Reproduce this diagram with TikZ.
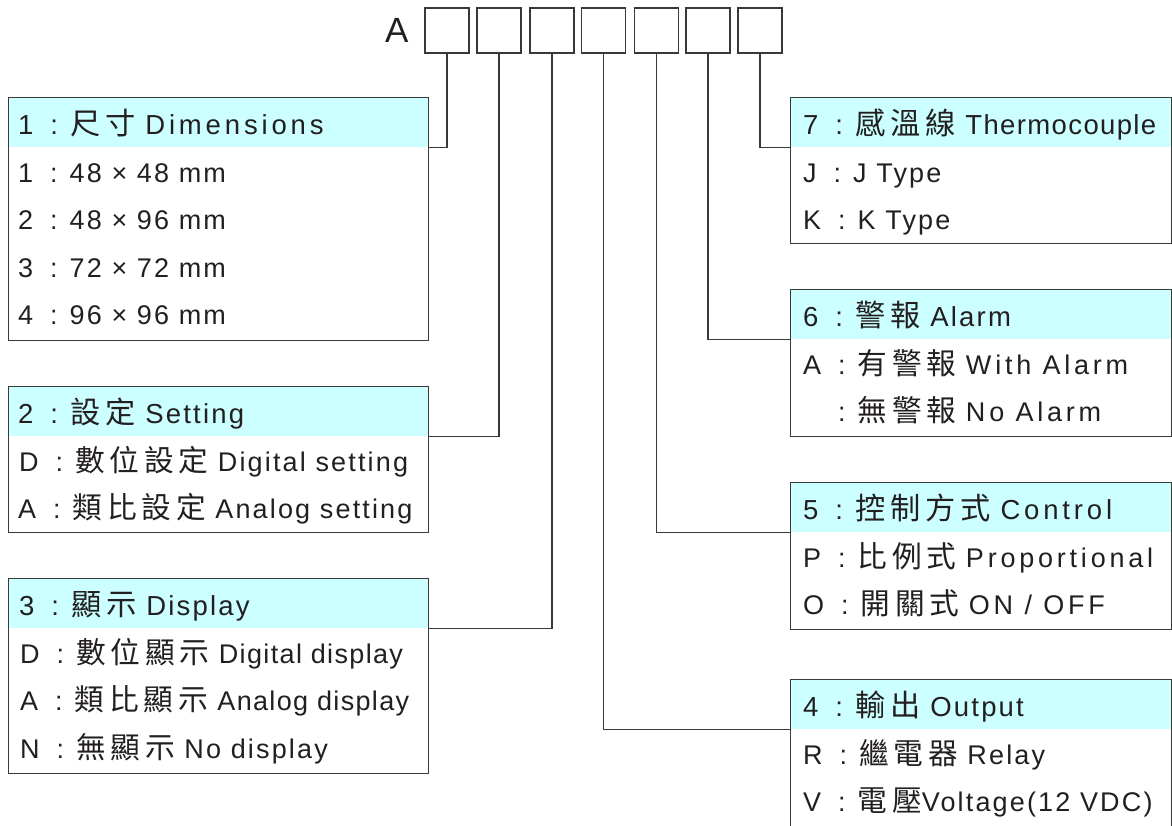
\documentclass[tikz,border=0pt]{standalone}
\usepackage{fontspec}
\setmainfont{Liberation Sans}[LetterSpace=8]
\newfontfamily\cjk{Noto Sans CJK TC}[Scale=1.1, LetterSpace=16]
\definecolor{hdrc}{HTML}{CCFFFF}
\definecolor{linec}{HTML}{3C3838}
\definecolor{txtc}{HTML}{231F20}
\newcommand\C[1]{{\cjk #1}}
\newcommand\sep{\hspace{17pt}:\hspace{12pt}}
\newcommand\wide[1]{{\addfontfeature{LetterSpace=14}#1}}
\newcommand\tight[1]{{\addfontfeature{LetterSpace=5}#1}}
\newcommand\bodyfnt{\fontsize{27}{30}\selectfont}
\newcommand\hdrfnt{\fontsize{27.5}{30}\selectfont}
\tikzset{
  frame/.style={draw=linec, line width=1.4pt, inner sep=0pt, anchor=north west},
  hdr/.style={fill=hdrc, inner sep=0pt, anchor=north west, minimum height=50pt},
  lbl/.style={anchor=base west, inner sep=0pt, text=txtc, font=\bodyfnt},
  hlbl/.style={lbl, font=\hdrfnt},
  wire/.style={draw=linec, line width=1.3pt},
  digitbox/.style={draw=linec, line width=1.5pt, minimum width=44pt, minimum height=45pt, inner sep=0pt}
}
\begin{document}
\begin{tikzpicture}[x=1pt,y=-1pt]
\useasboundingbox (0,0) rectangle (1172,825);
% prefix and code boxes
\node[anchor=base west, inner sep=0pt, text=txtc, font=\fontsize{35}{40}\selectfont] (pre) at (385,42) {A};
\node[digitbox] (d1) at (447,30.5) {};
\node[digitbox] (d2) at (499,30.5) {};
\node[digitbox] (d3) at (552,30.5) {};
\node[digitbox] (d4) at (603.5,30.5) {};
\node[digitbox] (d5) at (656.5,30.5) {};
\node[digitbox] (d6) at (708,30.5) {};
\node[digitbox] (d7) at (760,30.5) {};
% ---------- Box 1
\node[hdr, minimum width=420pt] (h1) at (8,97) {};
\node[frame, minimum width=420pt, minimum height=243pt] (b1) at (8,97) {};
\node[hlbl] (t10) at (18,134) {1\sep\C{尺寸} \wide{Dimensions}};
\node[lbl] (t11) at (18,182.5) {1\sep 48 × 48 mm};
\node[lbl] (t12) at (18,229.8) {2\sep 48 × 96 mm};
\node[lbl] (t13) at (18,277.1) {3\sep 72 × 72 mm};
\node[lbl] (t14) at (18,324.4) {4\sep 96 × 96 mm};
% ---------- Box 2
\node[hdr, minimum width=420pt] (h2) at (8,386) {};
\node[frame, minimum width=420pt, minimum height=146pt] (b2) at (8,386) {};
\node[hlbl] (t20) at (18,423) {2\sep\C{設定} Setting};
\node[lbl] (t21) at (19,471.5) {D\sep\C{數位設定} Digital setting};
\node[lbl] (t22) at (18,518.8) {A\sep\C{類比設定} Analog setting};
% ---------- Box 3
\node[hdr, minimum width=420pt] (h3) at (8,578) {};
\node[frame, minimum width=420pt, minimum height=195pt] (b3) at (8,578) {};
\node[hlbl] (t30) at (19,615) {3\sep\C{顯示} Display};
\node[lbl] (t31) at (20,663.5) {D\sep\C{數位顯示} \tight{Digital display}};
\node[lbl] (t32) at (20,710.8) {A\sep\C{類比顯示} \tight{Analog display}};
\node[lbl] (t33) at (20,758.1) {N\sep\C{無顯示} No display};
% ---------- Box 7
\node[hdr, minimum width=381pt] (h7) at (790,97) {};
\node[frame, minimum width=381pt, minimum height=146pt] (b7) at (790,97) {};
\node[hlbl] (t70) at (803,134) {7\sep\C{感溫線} \tight{Thermocouple}};
\node[lbl] (t71) at (803,182.5) {J\sep J Type};
\node[lbl] (t72) at (803,229.8) {K\sep K Type};
% ---------- Box 6
\node[hdr, minimum width=381pt] (h6) at (790,289) {};
\node[frame, minimum width=381pt, minimum height=147pt] (b6) at (790,289) {};
\node[hlbl] (t60) at (803,326) {6\sep\C{警報} Alarm};
\node[lbl] (t61) at (803,374.5) {A\sep\C{有警報} \wide{With Alarm}};
\node[lbl] (t62) at (803,421.8) {\phantom{A}\sep\C{無警報} \wide{No Alarm}};
% ---------- Box 5
\node[hdr, minimum width=381pt] (h5) at (790,482) {};
\node[frame, minimum width=381pt, minimum height=147pt] (b5) at (790,482) {};
\node[hlbl] (t50) at (803,519) {5\sep\C{控制方式} \wide{Control}};
\node[lbl] (t51) at (803,567.5) {P\sep\C{比例式} \wide{Proportional}};
\node[lbl] (t52) at (803,614.8) {O\sep\C{開關式} \wide{ON / OFF}};
% ---------- Box 4
\node[hdr, minimum width=381pt] (h4) at (790,679) {};
\node[frame, minimum width=381pt, minimum height=148pt] (b4) at (790,679) {};
\node[hlbl] (t40) at (803,716) {4\sep\C{輸出} Output};
\node[lbl] (t41) at (803,764.5) {R\sep\C{繼電器} Relay};
\node[lbl] (t42) at (803,811.8) {V\sep\C{電壓}Voltage(12 VDC)};
% ---------- connectors
\draw[wire] (d1.south) |- (h1.south east);
\draw[wire] (d2.south) |- (h2.south east);
\draw[wire] (d3.south) |- (h3.south east);
\draw[wire] (d4.south) |- (h4.south west);
\draw[wire] (d5.south) |- (h5.south west);
\draw[wire] (d6.south) |- (h6.south west);
\draw[wire] (d7.south) |- (h7.south west);
\end{tikzpicture}
\end{document}
